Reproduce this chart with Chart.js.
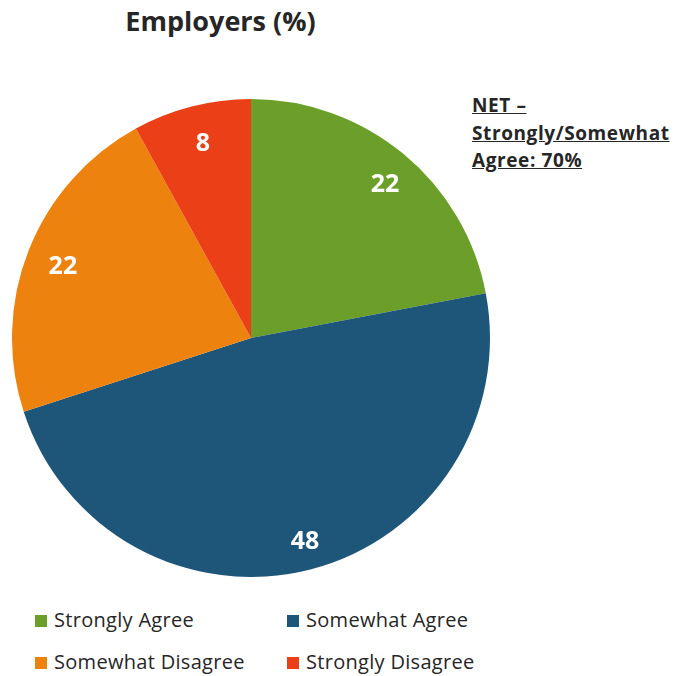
<!DOCTYPE html>
<html>
<head>
<meta charset="utf-8">
<script src="https://cdn.jsdelivr.net/npm/chart.js@4"></script>
<style>
	body { margin: 0; background: #fff; font-family: 'Open Sans', Lato, sans-serif; color: #262626; }
	#page { position: relative; width: 675px; height: 676px; overflow: hidden; }
	#title { position: absolute; left: 0; top: 2px; width: 441px; text-align: center; font-weight: bold; font-size: 27px; }
	#net { position: absolute; left: 472px; top: 92px; font-weight: bold; font-size: 19px; letter-spacing: 0.6px; line-height: 27.5px; text-decoration: underline; }
	#wrap { position: absolute; left: 12px; top: 99px; width: 478px; height: 478px; }
	.item { position: absolute; font-size: 20px; letter-spacing: 0.3px; white-space: nowrap; }
	.item span { display: inline-block; width: 12px; height: 12px; margin-right: 7px; vertical-align: 0px; }
</style>
</head>
<body>
<div id="page">
	<div id="title">Employers (%)</div>
	<div id="net">NET –<br>Strongly/Somewhat<br>Agree: 70%</div>
	<div id="wrap"><canvas id="chart"></canvas></div>
	<div id="legend"></div>
</div>
<script>
const categories = ['Strongly Agree', 'Somewhat Agree', 'Somewhat Disagree', 'Strongly Disagree'];
const values = [22, 48, 22, 8];
const colors = ['#6b9f29', '#1e567a', '#ee820e', '#ea3f17'];

// etiquetas blancas dentro de cada sector
const sliceLabels = {
	id: 'sliceLabels',
	afterDatasetsDraw(chart) {
		const ctx = chart.ctx;
		const meta = chart.getDatasetMeta(0);
		ctx.save();
		ctx.fillStyle = '#fff';
		ctx.font = 'bold 25px "Open Sans", Lato, sans-serif';
		ctx.textAlign = 'center';
		ctx.textBaseline = 'alphabetic';
		meta.data.forEach((arc, i) => {
			const p = arc.getProps(['x', 'y', 'startAngle', 'endAngle', 'outerRadius']);
			const mid = (p.startAngle + p.endAngle) / 2;
			const r = p.outerRadius * 0.86;
			ctx.fillText(values[i], p.x + Math.cos(mid) * r + 3, p.y + Math.sin(mid) * r + 12);
		});
		ctx.restore();
	}
};

new Chart(document.getElementById('chart'), {
	type: 'pie',
	data: {
		labels: categories,
		datasets: [{ data: values, backgroundColor: colors, borderWidth: 0 }]
	},
	options: {
		responsive: true,
		maintainAspectRatio: false,
		animation: false,
		plugins: { legend: { display: false }, tooltip: { enabled: false } }
	},
	plugins: [sliceLabels]
});

// leyenda en dos columnas
const legend = document.getElementById('legend');
const spots = [[35, 606], [287, 606], [35, 648], [287, 648]];
categories.forEach((c, i) => {
	const d = document.createElement('div');
	d.className = 'item';
	d.style.left = spots[i][0] + 'px';
	d.style.top = spots[i][1] + 'px';
	d.innerHTML = '<span style="background:' + colors[i] + '"></span>' + c;
	legend.appendChild(d);
});
</script>
</body>
</html>
